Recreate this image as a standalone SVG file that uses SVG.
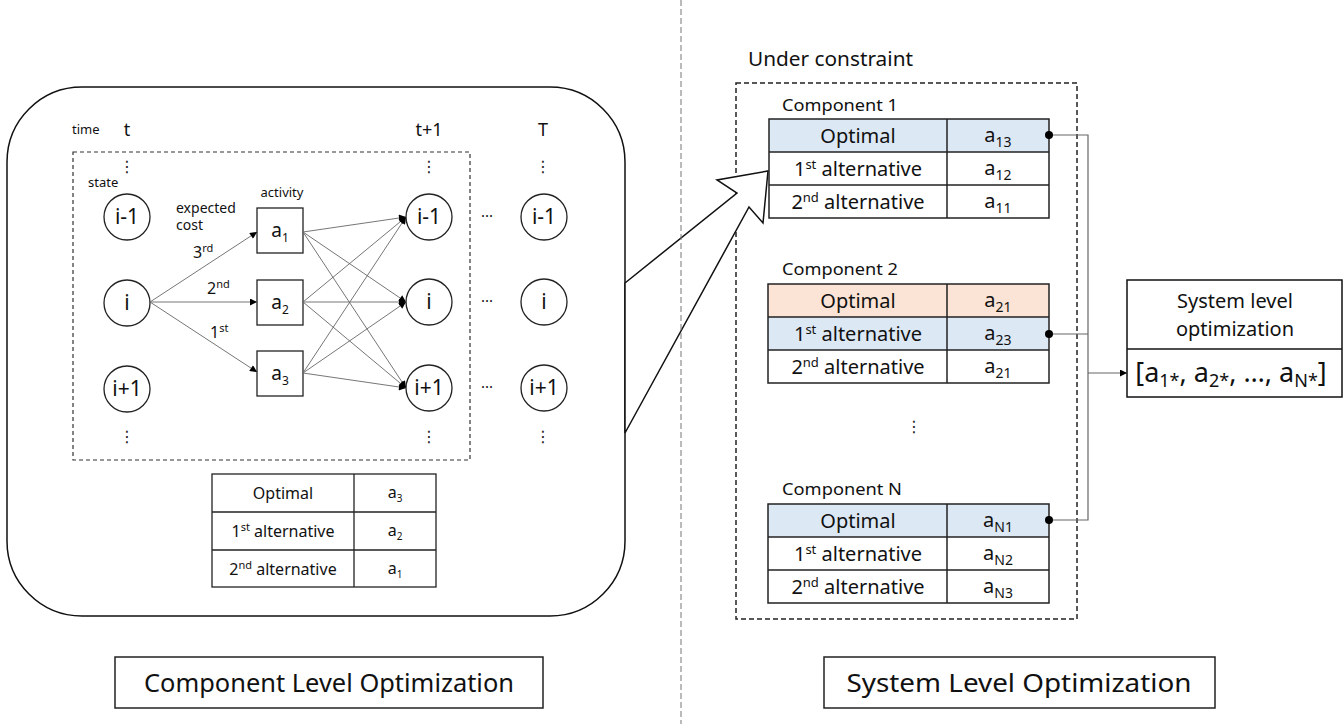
<svg xmlns="http://www.w3.org/2000/svg" width="1344" height="724" viewBox="0 0 1344 724">
  <style>
    text { font-family: "Noto Sans", "Open Sans", sans-serif; fill: #111; }
    .c { text-anchor: middle; }
    .small { font-size: 13px; }
    .lbl { font-size: 16px; }
    .tbl { font-size: 20px; }
    .comp { font-size: 16px; }
    .state { fill: #fff; stroke: #222; stroke-width: 1.3; }
    .act { fill: #fff; stroke: #222; stroke-width: 1.3; }
    .edge { stroke: #666; stroke-width: 0.9; fill: none; }
    .grid { stroke: #222; stroke-width: 1.3; fill: none; }
    .cell { stroke: #222; stroke-width: 1.5; }
    .vdots { font-family: "DejaVu Sans", sans-serif; font-size: 16px; text-anchor: middle; fill: #222; }
    .wire { stroke: #666; stroke-width: 1.2; fill: none; }
    .blue { fill: #dde8f5; }
    .peach { fill: #fbe4d5; }
    .white { fill: #fff; }
  </style>
  <defs>
    <marker id="ah" viewBox="0 0 10 10" refX="10" refY="5" markerWidth="9" markerHeight="7" orient="auto" markerUnits="userSpaceOnUse">
      <path d="M0,0 L10,5 L0,10 z" fill="#000"/>
    </marker>
  </defs>

  <!-- component level panel -->
  <g id="component-panel">
    <rect x="7" y="87" width="618" height="529" rx="75" ry="75" fill="#fff" stroke="#111" stroke-width="1.5"/>
    <rect x="73" y="152" width="397" height="308" fill="none" stroke="#333" stroke-width="1.2" stroke-dasharray="4 3"/>
    <text x="72" y="134" class="small">time</text>
    <text x="127" y="136" class="c" font-size="18">t</text>
    <text x="429" y="136" class="c" font-size="18">t+1</text>
    <text x="543" y="136" class="c" font-size="18">T</text>
    <text x="88" y="187" class="small">state</text>
    <text x="282" y="197" class="c small">activity</text>
    <text x="176" y="213" font-size="14">expected</text>
    <text x="176" y="230" font-size="14">cost</text>
    <text x="193" y="258" class="lbl">3<tspan dy="-6" font-size="11">rd</tspan></text>
    <text x="207" y="294" class="lbl">2<tspan dy="-6" font-size="11">nd</tspan></text>
    <text x="210" y="338" class="lbl">1<tspan dy="-6" font-size="11">st</tspan></text>
    <text x="127" y="172" class="vdots">⋮</text>
    <text x="127" y="442" class="vdots">⋮</text>
    <text x="429" y="172" class="vdots">⋮</text>
    <text x="429" y="442" class="vdots">⋮</text>
    <text x="543" y="172" class="vdots">⋮</text>
    <text x="543" y="442" class="vdots">⋮</text>
    <text x="487" y="221" class="c" font-size="15">···</text>
    <text x="487" y="306" class="c" font-size="15">···</text>
    <text x="487" y="392" class="c" font-size="15">···</text>
  </g>

  <!-- states at t -->
  <g id="state-t-im1"><circle class="state" cx="127" cy="217" r="23"/><text x="127" y="224" class="c" font-size="21">i-1</text></g>
  <g id="state-t-i"><circle class="state" cx="127" cy="303" r="23"/><text x="127" y="310" class="c" font-size="21">i</text></g>
  <g id="state-t-ip1"><circle class="state" cx="127" cy="389" r="23"/><text x="127" y="396" class="c" font-size="21">i+1</text></g>

  <!-- activities -->
  <g id="act-a1"><rect class="act" x="257" y="208" width="46" height="45"/><text x="280" y="237" class="c" font-size="19">a<tspan dy="5" font-size="12">1</tspan></text></g>
  <g id="act-a2"><rect class="act" x="257" y="280" width="46" height="45"/><text x="280" y="309" class="c" font-size="19">a<tspan dy="5" font-size="12">2</tspan></text></g>
  <g id="act-a3"><rect class="act" x="257" y="351" width="46" height="45"/><text x="280" y="380" class="c" font-size="19">a<tspan dy="5" font-size="12">3</tspan></text></g>

  <!-- states at t+1 -->
  <g id="state-t1-im1"><circle class="state" cx="429" cy="217" r="23"/><text x="429" y="224" class="c" font-size="21">i-1</text></g>
  <g id="state-t1-i"><circle class="state" cx="429" cy="302" r="23"/><text x="429" y="309" class="c" font-size="21">i</text></g>
  <g id="state-t1-ip1"><circle class="state" cx="429" cy="388" r="23"/><text x="429" y="395" class="c" font-size="21">i+1</text></g>

  <!-- states at T -->
  <g id="state-T-im1"><circle class="state" cx="544" cy="217" r="23"/><text x="544" y="224" class="c" font-size="21">i-1</text></g>
  <g id="state-T-i"><circle class="state" cx="544" cy="302" r="23"/><text x="544" y="309" class="c" font-size="21">i</text></g>
  <g id="state-T-ip1"><circle class="state" cx="544" cy="388" r="23"/><text x="544" y="395" class="c" font-size="21">i+1</text></g>

  <!-- transitions -->
  <g id="transitions">
    <line class="edge" x1="150" y1="302" x2="257" y2="232" marker-end="url(#ah)"/>
    <line class="edge" x1="150" y1="302" x2="257" y2="302" marker-end="url(#ah)"/>
    <line class="edge" x1="150" y1="302" x2="257" y2="372" marker-end="url(#ah)"/>
    <line class="edge" x1="303" y1="232" x2="406" y2="217" marker-end="url(#ah)"/>
    <line class="edge" x1="303" y1="232" x2="406" y2="302" marker-end="url(#ah)"/>
    <line class="edge" x1="303" y1="232" x2="406" y2="388" marker-end="url(#ah)"/>
    <line class="edge" x1="303" y1="302" x2="406" y2="217" marker-end="url(#ah)"/>
    <line class="edge" x1="303" y1="302" x2="406" y2="302" marker-end="url(#ah)"/>
    <line class="edge" x1="303" y1="302" x2="406" y2="388" marker-end="url(#ah)"/>
    <line class="edge" x1="303" y1="373" x2="406" y2="217" marker-end="url(#ah)"/>
    <line class="edge" x1="303" y1="373" x2="406" y2="302" marker-end="url(#ah)"/>
    <line class="edge" x1="303" y1="373" x2="406" y2="388" marker-end="url(#ah)"/>
  </g>

  <!-- ranking table of the component -->
  <g id="component-table">
    <rect class="grid" x="212" y="474" width="224" height="113" fill="#fff"/>
    <line class="grid" x1="212" y1="512" x2="436" y2="512"/>
    <line class="grid" x1="212" y1="550" x2="436" y2="550"/>
    <line class="grid" x1="354" y1="474" x2="354" y2="587"/>
    <text x="283" y="499" class="c lbl">Optimal</text>
    <text x="283" y="537" class="c lbl">1<tspan dy="-6" font-size="11">st</tspan><tspan dy="6"> alternative</tspan></text>
    <text x="283" y="575" class="c lbl">2<tspan dy="-6" font-size="11">nd</tspan><tspan dy="6"> alternative</tspan></text>
    <text x="395" y="498" class="c lbl">a<tspan dy="4" font-size="10">3</tspan></text>
    <text x="395" y="536" class="c lbl">a<tspan dy="4" font-size="10">2</tspan></text>
    <text x="395" y="574" class="c lbl">a<tspan dy="4" font-size="10">1</tspan></text>
  </g>

  <!-- constraint region -->
  <g id="constraint">
    <text x="748" y="66" font-size="19" textLength="165" lengthAdjust="spacingAndGlyphs">Under constraint</text>
    <rect x="736" y="83" width="341" height="536" fill="none" stroke="#222" stroke-width="1.5" stroke-dasharray="5 3"/>
  </g>

  <!-- callout from component panel -->
  <g id="callout">
    <polygon points="625,283 737,193 717,180 768,171 763,223 749,207 625,433" fill="#fff" stroke="#111" stroke-width="1.5" stroke-linejoin="miter"/>
  </g>

  <!-- separator -->
  <g id="divider">
    <line x1="681" y1="0" x2="681" y2="724" stroke="#777" stroke-width="1" stroke-dasharray="6 3"/>
  </g>

  <!-- component 1 -->
  <g id="component-1">
    <text x="782" y="111" class="comp" textLength="116" lengthAdjust="spacingAndGlyphs">Component 1</text>
    <rect class="blue" x="769" y="119" width="280" height="33"/>
    <rect class="white" x="769" y="152" width="280" height="66"/>
    <rect class="cell" fill="none" x="769" y="119" width="280" height="99"/>
    <line class="cell" x1="769" y1="152" x2="1049" y2="152"/>
    <line class="cell" x1="769" y1="185" x2="1049" y2="185"/>
    <line class="cell" x1="947" y1="119" x2="947" y2="218"/>
    <text x="858" y="143" class="c tbl">Optimal</text>
    <text x="858" y="176" class="c tbl">1<tspan dy="-7" font-size="13">st</tspan><tspan dy="7"> alternative</tspan></text>
    <text x="858" y="209" class="c tbl">2<tspan dy="-7" font-size="13">nd</tspan><tspan dy="7"> alternative</tspan></text>
    <text x="998" y="142" class="c tbl">a<tspan dy="5" font-size="14">13</tspan></text>
    <text x="998" y="175" class="c tbl">a<tspan dy="5" font-size="14">12</tspan></text>
    <text x="998" y="208" class="c tbl">a<tspan dy="5" font-size="14">11</tspan></text>
  </g>

  <!-- component 2 -->
  <g id="component-2">
    <text x="782" y="275" class="comp" textLength="116" lengthAdjust="spacingAndGlyphs">Component 2</text>
    <rect class="peach" x="768" y="284" width="281" height="33"/>
    <rect class="blue" x="768" y="317" width="281" height="33"/>
    <rect class="white" x="768" y="350" width="281" height="33"/>
    <rect class="cell" fill="none" x="768" y="284" width="281" height="99"/>
    <line class="cell" x1="768" y1="317" x2="1049" y2="317"/>
    <line class="cell" x1="768" y1="350" x2="1049" y2="350"/>
    <line class="cell" x1="947" y1="284" x2="947" y2="383"/>
    <text x="858" y="308" class="c tbl">Optimal</text>
    <text x="858" y="341" class="c tbl">1<tspan dy="-7" font-size="13">st</tspan><tspan dy="7"> alternative</tspan></text>
    <text x="858" y="374" class="c tbl">2<tspan dy="-7" font-size="13">nd</tspan><tspan dy="7"> alternative</tspan></text>
    <text x="998" y="307" class="c tbl">a<tspan dy="5" font-size="14">21</tspan></text>
    <text x="998" y="340" class="c tbl">a<tspan dy="5" font-size="14">23</tspan></text>
    <text x="998" y="373" class="c tbl">a<tspan dy="5" font-size="14">21</tspan></text>
  </g>

  <text x="914" y="432" class="vdots" font-size="18">⋮</text>

  <!-- component N -->
  <g id="component-n">
    <text x="782" y="495" class="comp" textLength="120" lengthAdjust="spacingAndGlyphs">Component N</text>
    <rect class="blue" x="768" y="504" width="281" height="33"/>
    <rect class="white" x="768" y="537" width="281" height="66"/>
    <rect class="cell" fill="none" x="768" y="504" width="281" height="99"/>
    <line class="cell" x1="768" y1="537" x2="1049" y2="537"/>
    <line class="cell" x1="768" y1="570" x2="1049" y2="570"/>
    <line class="cell" x1="947" y1="504" x2="947" y2="603"/>
    <text x="858" y="528" class="c tbl">Optimal</text>
    <text x="858" y="561" class="c tbl">1<tspan dy="-7" font-size="13">st</tspan><tspan dy="7"> alternative</tspan></text>
    <text x="858" y="594" class="c tbl">2<tspan dy="-7" font-size="13">nd</tspan><tspan dy="7"> alternative</tspan></text>
    <text x="998" y="527" class="c tbl">a<tspan dy="5" font-size="14">N1</tspan></text>
    <text x="998" y="560" class="c tbl">a<tspan dy="5" font-size="14">N2</tspan></text>
    <text x="998" y="593" class="c tbl">a<tspan dy="5" font-size="14">N3</tspan></text>
  </g>

  <!-- selections feeding the system level -->
  <g id="connectors">
    <polyline class="wire" points="1049,135 1088,135 1088,520 1049,520"/>
    <line class="wire" x1="1049" y1="334" x2="1088" y2="334"/>
    <line class="wire" x1="1088" y1="373" x2="1127" y2="373" marker-end="url(#ah)"/>
    <circle cx="1049" cy="135" r="4" fill="#000"/>
    <circle cx="1049" cy="334" r="4" fill="#000"/>
    <circle cx="1049" cy="520" r="4" fill="#000"/>
  </g>

  <!-- system level box -->
  <g id="system-box">
    <rect x="1127" y="280" width="215" height="117" fill="#fff" stroke="#111" stroke-width="1.5"/>
    <line x1="1127" y1="349" x2="1342" y2="349" stroke="#111" stroke-width="1.5"/>
    <text x="1235" y="308" class="c" font-size="20">System level</text>
    <text x="1235" y="336" class="c" font-size="20">optimization</text>
    <text x="1231" y="382" class="c" font-size="27">[a<tspan dy="5" font-size="18">1*</tspan><tspan dy="-5">, a</tspan><tspan dy="5" font-size="18">2*</tspan><tspan dy="-5">, …, a</tspan><tspan dy="5" font-size="18">N*</tspan><tspan dy="-5">]</tspan></text>
  </g>

  <!-- captions -->
  <g id="caption-component">
    <rect x="115" y="657" width="428" height="51" fill="#fff" stroke="#222" stroke-width="1.5"/>
    <text x="329" y="692" class="c" font-size="26" textLength="370" lengthAdjust="spacingAndGlyphs">Component Level Optimization</text>
  </g>
  <g id="caption-system">
    <rect x="824" y="657" width="391" height="51" fill="#fff" stroke="#222" stroke-width="1.5"/>
    <text x="1019" y="692" class="c" font-size="26" textLength="345" lengthAdjust="spacingAndGlyphs">System Level Optimization</text>
  </g>
</svg>
